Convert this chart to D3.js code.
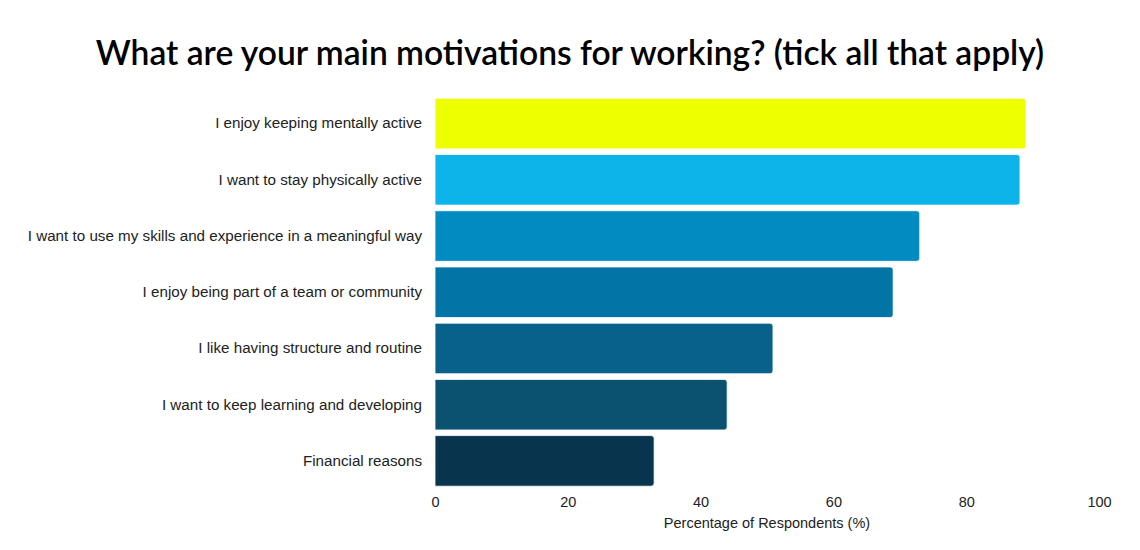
<!DOCTYPE html>
<html>
<head>
<meta charset="utf-8">
<script src="https://cdn.jsdelivr.net/npm/d3@7"></script>
<style>
  body { margin: 0; background: #fff; }
  svg { display: block; }
</style>
</head>
<body>
<svg id="chart" width="1140" height="550"></svg>
<script>
// data, top to bottom
var categories = [
    'I enjoy keeping mentally active',
    'I want to stay physically active',
    'I want to use my skills and experience in a meaningful way',
    'I enjoy being part of a team or community',
    'I like having structure and routine',
    'I want to keep learning and developing',
    'Financial reasons'
];
var values = [89, 88.1, 73, 69, 50.9, 44, 33];
var barColors = ['#eeff00', '#0db4ea', '#028bc0', '#0274a5', '#08618a', '#0b5170', '#08354d'];
var xTicks = [0, 20, 40, 60, 80, 100];

var margin = { top: 95.5, right: 41, bottom: 61, left: 435 };
var width = 1140, height = 550;

var svg = d3.select('#chart');

svg.append('text')
    .attr('x', 570)
    .attr('y', 65)
    .attr('text-anchor', 'middle')
    .style('font-family', 'Lato, "Noto Sans", sans-serif')
    .style('font-weight', 600)
    .style('font-size', '33.6px')
    .style('fill', '#000')
    .text('What are your main motivations for working? (tick all that apply)');

var x = d3.scaleLinear()
    .domain([0, 100])
    .range([margin.left, width - margin.right]);

var y = d3.scaleBand()
    .domain(categories)
    .range([margin.top, height - margin.bottom])
    .paddingInner(0.1)
    .paddingOuter(0.05);

var g = svg.append('g');

g.selectAll('path.bar')
    .data(categories)
    .enter().append('path')
    .attr('class', 'bar')
    .attr('d', function(d, i) {
        var x0 = x(0), x1 = x(values[i]), y0 = y(d), h = y.bandwidth(), r = 3;
        return 'M' + x0 + ',' + y0 +
            'H' + (x1 - r) + 'Q' + x1 + ',' + y0 + ' ' + x1 + ',' + (y0 + r) +
            'V' + (y0 + h - r) + 'Q' + x1 + ',' + (y0 + h) + ' ' + (x1 - r) + ',' + (y0 + h) +
            'H' + x0 + 'Z';
    })
    .style('fill', function(d, i) { return barColors[i]; })
    .style('stroke', '#ffffff')
    .style('stroke-width', 0.8);

// category labels
var yAxis = d3.axisLeft(y).tickSize(0).tickPadding(13);
svg.append('g')
    .attr('transform', 'translate(' + margin.left + ',0)')
    .call(yAxis)
    .call(function(s) { s.select('.domain').remove(); })
    .selectAll('text')
    .style('font-family', '"Liberation Sans", Arial, sans-serif')
    .style('font-size', '15.2px')
    .style('fill', '#222');

// x axis, no line
var xAxis = d3.axisBottom(x).tickValues(xTicks).tickSize(0).tickPadding(8);
svg.append('g')
    .attr('transform', 'translate(0,' + (height - margin.bottom) + ')')
    .call(xAxis)
    .call(function(s) { s.select('.domain').remove(); })
    .selectAll('text')
    .style('font-family', '"Liberation Sans", Arial, sans-serif')
    .style('font-size', '14.5px')
    .style('fill', '#222');

svg.append('text')
    .attr('x', x(50))
    .attr('y', 528)
    .attr('text-anchor', 'middle')
    .style('font-family', '"Liberation Sans", Arial, sans-serif')
    .style('font-size', '14.5px')
    .style('fill', '#222')
    .text('Percentage of Respondents (%)');
</script>
</body>
</html>
